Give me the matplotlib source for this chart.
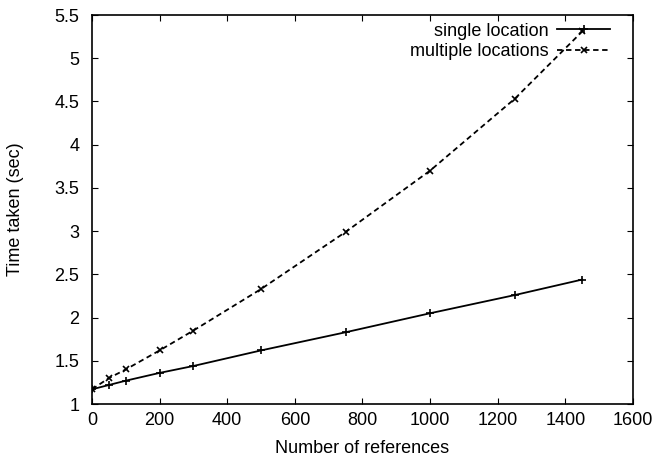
import matplotlib
matplotlib.use("Agg")
import matplotlib.pyplot as plt

plt.rcParams["font.family"] = ["Liberation Sans", "DejaVu Sans"]

# number of references
refs = [0, 50, 100, 200, 300, 500, 750, 1000, 1250, 1450]
# time taken (sec)
single_location = [1.17, 1.22, 1.27, 1.36, 1.44, 1.62, 1.83, 2.05, 2.26, 2.44]
multiple_locations = [1.17, 1.30, 1.40, 1.62, 1.85, 2.33, 2.99, 3.70, 4.53, 5.31]

fig = plt.figure(figsize=(6.56, 4.61), dpi=100)
ax = fig.add_axes([0.1402, 0.1236, 0.8247, 0.8438])

ax.plot(refs, single_location, color="black", linestyle="-", linewidth=1.3,
        marker="+", markersize=6, markeredgewidth=1.2, label="single location")
ax.plot(refs, multiple_locations, color="black", linestyle=(0, (3, 2)), linewidth=1.3,
        marker="x", markersize=5, markeredgewidth=1.2, label="multiple locations")

ax.set_xlim(0, 1600)
ax.set_ylim(1, 5.5)
ax.set_xticks(range(0, 1601, 200))
ax.set_yticks([1, 1.5, 2, 2.5, 3, 3.5, 4, 4.5, 5, 5.5])
ax.set_yticklabels(["1", "1.5", "2", "2.5", "3", "3.5", "4", "4.5", "5", "5.5"])
ax.tick_params(direction="in", top=True, right=True, labelsize=13, length=4)
ax.tick_params(axis="x", pad=6)
ax.tick_params(axis="y", pad=9)
for s in ax.spines.values():
    s.set_linewidth(1.2)

ax.set_xlabel("Number of references", fontsize=13, labelpad=8)
ax.set_ylabel("Time taken (sec)", fontsize=13, labelpad=22)

ax.legend(loc="upper right", bbox_to_anchor=(0.957, 0.98), frameon=False,
          markerfirst=False, fontsize=13, handlelength=2.9, borderpad=0,
          borderaxespad=0, labelspacing=0.2, handletextpad=0.5)

fig.savefig("out.png", dpi=100)
